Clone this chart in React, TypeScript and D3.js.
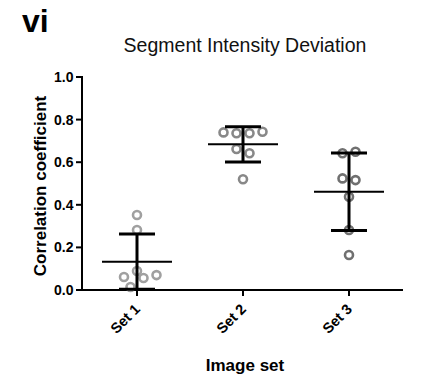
import React from "react";
import * as d3 from "d3";

const categories = ["Set 1", "Set 2", "Set 3"];
const set1Values = [0.352, 0.282, 0.014, 0.056, 0.061, 0.089, 0.070];
const set2Values = [0.740, 0.736, 0.736, 0.743, 0.662, 0.642, 0.520];
const set3Values = [0.642, 0.649, 0.524, 0.516, 0.438, 0.282, 0.164];
const means = [0.133, 0.684, 0.461];
const sds = [0.130, 0.083, 0.182];
const yTicks = [0, 0.2, 0.4, 0.6, 0.8, 1.0];
const title = "Segment Intensity Deviation";
const panelLabel = "vi";
const yTitle = "Correlation coefficient";
const xTitle = "Image set";

const groups = [set1Values, set2Values, set3Values];
const dotColors = ["#a0a0a0", "#888888", "#707070"];
const FONT = "'Liberation Sans', Arial, Helvetica, sans-serif";

const W = 423, H = 379;
const x = d3.scalePoint<string>().domain(categories).range([84, 402]).padding(0.5);
const y = d3.scaleLinear().domain([0, 1]).range([290, 77]);

const R = 4;
const STEP = 13;
const BIN = 9.5;

// Prism-like beeswarm: bin points by value from bottom, spread each bin symmetrically
function swarm(values: number[]) {
  const idx = values.map((v, i) => i);
  const sorted = [...idx].sort((a, b) => values[a] - values[b]);
  const bins: number[][] = [];
  let cur: number[] = [];
  let startPx = 0;
  sorted.forEach((i) => {
    const py = y(values[i]);
    if (cur.length === 0) { cur = [i]; startPx = py; }
    else if (startPx - py < BIN) cur.push(i);
    else { bins.push(cur); cur = [i]; startPx = py; }
  });
  if (cur.length) bins.push(cur);
  const placed: { i: number; dx: number; py: number }[] = [];
  bins.forEach((b) => {
    const members = [...b].sort((a, c) => a - c);
    const n = members.length;
    members.forEach((i, k) => {
      let dx = (k - (n - 1) / 2) * STEP;
      const py = y(values[i]);
      const dir = dx < 0 ? -1 : 1;
      if (dx !== 0) {
        let guard = 0;
        while (placed.some((p) => Math.hypot(p.dx - dx, p.py - py) < 2 * R + 1.5) && guard < 10) {
          dx += dir * STEP / 2;
          guard++;
        }
      }
      placed.push({ i, dx, py });
    });
  });
  return placed;
}

export default function App() {
  const axisW = 2;
  return (
    <svg width={W} height={H} style={{ position: "absolute", left: 0, top: 0, background: "#fff" }} fontFamily={FONT}>
      <rect width={W} height={H} fill="#fff" />
      <text x={22} y={32} fontSize={32} fontWeight="bold" fill="#000">{panelLabel}</text>
      <text x={245} y={52} fontSize={19.5} textAnchor="middle" fill="#111">{title}</text>

      {/* y axis */}
      <line x1={82} x2={82} y1={y(1) - 1} y2={y(0) + 1} stroke="#000" strokeWidth={axisW} />
      {yTicks.map((t) => (
        <g key={t}>
          <line x1={76} x2={82} y1={y(t)} y2={y(t)} stroke="#000" strokeWidth={axisW} />
          <text x={73.5} y={y(t)} dy="0.36em" textAnchor="end" fontSize={14} fontWeight="bold">{t.toFixed(1)}</text>
        </g>
      ))}
      <text transform={`translate(45.5,186) rotate(-90)`} textAnchor="middle" fontSize={17} fontWeight="bold">{yTitle}</text>

      {/* x axis */}
      <line x1={81} x2={403} y1={y(0)} y2={y(0)} stroke="#000" strokeWidth={axisW} />
      {categories.map((c) => (
        <g key={c}>
          <line x1={x(c)} x2={x(c)} y1={y(0)} y2={y(0) + 6} stroke="#000" strokeWidth={axisW} />
          <text transform={`translate(${(x(c) as number) + 4},${y(0) + 20}) rotate(-45)`} textAnchor="end" fontSize={14.5} fontWeight="bold">{c}</text>
        </g>
      ))}
      <text x={245} y={370.5} textAnchor="middle" fontSize={17} fontWeight="bold">{xTitle}</text>

      {/* dots */}
      {groups.map((vals, gi) => {
        const cx = x(categories[gi]) as number;
        return swarm(vals).map((p) => (
          <circle key={`${gi}-${p.i}`} cx={cx + p.dx} cy={p.py} r={R} fill="none" stroke={dotColors[gi]} strokeWidth={2.6} />
        ));
      })}

      {/* mean and SD */}
      {means.map((m, gi) => {
        const cx = x(categories[gi]) as number;
        const top = y(m + sds[gi]);
        const bot = y(Math.max(0, m - sds[gi]));
        return (
          <g key={gi} stroke="#000">
            <line x1={cx - 35} x2={cx + 35} y1={y(m)} y2={y(m)} strokeWidth={2} />
            <line x1={cx} x2={cx} y1={top} y2={bot} strokeWidth={3} />
            <line x1={cx - 18} x2={cx + 18} y1={top} y2={top} strokeWidth={3} />
            <line x1={cx - 18} x2={cx + 18} y1={bot} y2={bot} strokeWidth={3} />
          </g>
        );
      })}
    </svg>
  );
}
